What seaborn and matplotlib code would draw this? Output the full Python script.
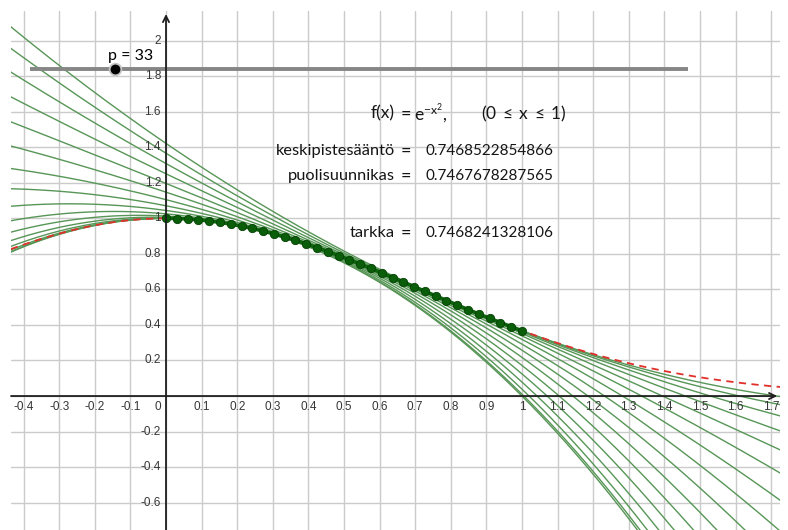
import numpy as np
import pandas as pd
import matplotlib
matplotlib.use("Agg")
import matplotlib.pyplot as plt
import seaborn as sns

# ---------------- data ----------------
p_value = 33                      # slider value (number of sub-intervals)
interval = (0.0, 1.0)             # integration interval of f(x) = exp(-x^2)
# centres of the green osculating (2nd-degree Taylor) parabolas
centres = [0.0, 0.0625, 0.125, 0.1875, 0.25, 0.3125, 0.375, 0.4375,
           0.5, 0.5625, 0.625, 0.6875, 0.75, 0.8125, 0.875, 0.9375]
x_tick_values = [-0.4, -0.3, -0.2, -0.1, 0.1, 0.2, 0.3, 0.4, 0.5, 0.6, 0.7,
                 0.8, 0.9, 1.0, 1.1, 1.2, 1.3, 1.4, 1.5, 1.6, 1.7]
x_tick_labels = ["-0.4", "-0.3", "-0.2", "-0.1", "0.1", "0.2", "0.3", "0.4",
                 "0.5", "0.6", "0.7", "0.8", "0.9", "1", "1.1", "1.2", "1.3",
                 "1.4", "1.5", "1.6", "1.7"]
y_tick_values = [-0.6, -0.4, -0.2, 0.2, 0.4, 0.6, 0.8, 1.0, 1.2, 1.4, 1.6, 1.8, 2.0]
y_tick_labels = ["-0.6", "-0.4", "-0.2", "0.2", "0.4", "0.6", "0.8", "1",
                 "1.2", "1.4", "1.6", "1.8", "2"]
result_names = ["keskipistesääntö", "puolisuunnikas", "tarkka"]
result_values = ["0.7468522854866", "0.7467678287565", "0.7468241328106"]

# ---------------- styling ----------------
sns.set_style("white")
plt.rcParams["font.family"] = ["Lato", "DejaVu Sans"]
plt.rcParams["mathtext.fontset"] = "custom"
plt.rcParams["mathtext.rm"] = "Lato"
plt.rcParams["mathtext.it"] = "Lato:italic"
plt.rcParams["mathtext.bf"] = "Lato:bold"

XMIN, XMAX = -0.4355, 1.725
YMIN, YMAX = -0.754, 2.167

fig = plt.figure(figsize=(7.88, 5.30), dpi=100)
fig.patch.set_facecolor("white")
ax = fig.add_axes([11 / 788, 0, 769 / 788, 519 / 530])
ax.set_xlim(XMIN, XMAX)
ax.set_ylim(YMIN, YMAX)
for s in ax.spines.values():
    s.set_visible(False)

# grid
grid_x = sorted(x_tick_values + [0.0])
grid_y = sorted(y_tick_values + [0.0])
ax.set_xticks(grid_x)
ax.set_yticks(grid_y)
ax.tick_params(length=0, labelbottom=False, labelleft=False)
ax.grid(True, color="#cbcbcb", lw=1.0, zorder=0)
ax.set_axisbelow(True)


def f(x):
    return np.exp(-np.asarray(x) ** 2)


def f1(x):
    return -2 * np.asarray(x) * f(x)


def f2(x):
    x = np.asarray(x)
    return (4 * x ** 2 - 2) * f(x)


xs = np.linspace(XMIN - 0.05, XMAX + 0.05, 800)

# green osculating parabolas
for a in centres:
    h = xs - a
    yv = f(a) + f1(a) * h + 0.5 * f2(a) * h ** 2
    sns.lineplot(x=xs, y=yv, ax=ax, color="#579657", lw=1.0,
                 estimator=None, sort=False, legend=False, zorder=2)

# red dashed f everywhere
sns.lineplot(x=xs, y=f(xs), ax=ax, color="#e0302c", lw=1.3,
             estimator=None, sort=False, legend=False, zorder=3,
             dashes=False, linestyle=(0, (4, 3)))

# thick f on the interval
xi = np.linspace(interval[0], interval[1], 300)
sns.lineplot(x=xi, y=f(xi), ax=ax, color="#0b650b", lw=2.6,
             estimator=None, sort=False, legend=False, zorder=4)

# nodes
nodes = pd.DataFrame({"x": np.linspace(interval[0], interval[1], p_value + 1)})
nodes["y"] = f(nodes["x"])
sns.scatterplot(data=nodes, x="x", y="y", ax=ax, color="#0a5e0a", s=36,
                edgecolor="#064006", linewidth=0.6, zorder=5, legend=False)

# axes with arrows
axis_col = "#1e1e1e"
ax.annotate("", xy=(1.717, 0), xytext=(XMIN, 0),
            arrowprops=dict(arrowstyle="->", color=axis_col, lw=1.3,
                            mutation_scale=11, shrinkA=0, shrinkB=0), zorder=6)
ax.annotate("", xy=(0, 2.15), xytext=(0, YMIN),
            arrowprops=dict(arrowstyle="->", color=axis_col, lw=1.3,
                            mutation_scale=11, shrinkA=0, shrinkB=0), zorder=6)

# tick labels
tick_col = "#363636"
tick_fs = 8.5
tick_fam = ["Liberation Sans", "DejaVu Sans"]
for v, lab in zip(x_tick_values, x_tick_labels):
    ax.annotate(lab, (v, 0), xytext=(0, -5), textcoords="offset pixels",
                ha="center", va="top", fontsize=tick_fs, color=tick_col,
                family=tick_fam, zorder=7)
for v, lab in zip(y_tick_values, y_tick_labels):
    ax.annotate(lab, (0, v), xytext=(-5, 0), textcoords="offset pixels",
                ha="right", va="center", fontsize=tick_fs, color=tick_col,
                family=tick_fam, zorder=7)
ax.annotate("0", (0, 0), xytext=(-5, -5), textcoords="offset pixels",
            ha="right", va="top", fontsize=tick_fs, color=tick_col,
            family=tick_fam, zorder=7)

# slider
ax.plot([-0.382, 1.467], [1.838, 1.838], color="#868686", lw=2.8,
        solid_capstyle="butt", zorder=5)
ax.scatter([-0.143], [1.838], s=95, color="#c4c4c4", zorder=6, linewidths=0)
ax.scatter([-0.143], [1.838], s=50, color="black", zorder=7, linewidths=0)
ax.text(-0.163, 1.913, f"p = {p_value}", ha="left", va="center",
        fontsize=11.5, color="black", zorder=7)

# formula and results
txt_col = "#151515"
fs_name = 11.8
fs_val = 11
x_lab, x_eq, x_val = 0.6434, 0.6743, 0.7297
ax.text(x_lab, 1.59, "f(x)", ha="right", va="center", fontsize=12.5, color=txt_col)
ax.text(x_eq, 1.59, "=", ha="center", va="center", fontsize=13, color=txt_col)
ax.text(0.697, 1.59, r"$\mathrm{e}^{-\mathrm{x}^{2}}$,", ha="left", va="center",
        fontsize=12.5, color=txt_col)
ax.text(0.885, 1.59, r"$(0\;\leq\;\mathrm{x}\;\leq\;1)$", ha="left", va="center",
        fontsize=12.5, color=txt_col)
for name, val, yy in zip(result_names, result_values, [1.38, 1.238, 0.92]):
    ax.text(x_lab, yy, name, ha="right", va="center", fontsize=fs_name, color=txt_col)
    ax.text(x_eq, yy, "=", ha="center", va="center", fontsize=13, color=txt_col)
    ax.text(x_val, yy, val, ha="left", va="center", fontsize=fs_val, color=txt_col)

fig.savefig("out.png", dpi=100, facecolor="white")
